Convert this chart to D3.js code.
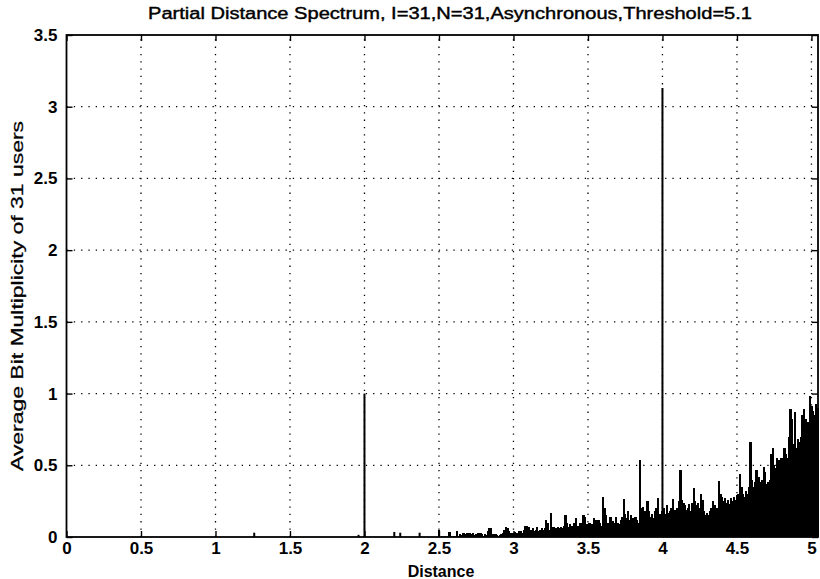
<!DOCTYPE html>
<html>
<head>
<meta charset="utf-8">
<script src="https://cdn.jsdelivr.net/npm/d3@7"></script>
<style>
  html, body { margin: 0; padding: 0; background: #fff; }
  svg { display: block; }
  text { font-family: "Liberation Sans", Arial, Helvetica, sans-serif; fill: #000; }
</style>
</head>
<body>
<svg id="chart" width="820" height="579"></svg>
<script>
// ---- data ----
const title = "Partial Distance Spectrum, I=31,N=31,Asynchronous,Threshold=5.1";
const xLabel = "Distance";
const yLabel = "Average Bit Multiplicity of 31 users";
const xTicks = [0, 0.5, 1, 1.5, 2, 2.5, 3, 3.5, 4, 4.5, 5];
const xTickLabels = ["0", "0.5", "1", "1.5", "2", "2.5", "3", "3.5", "4", "4.5", "5"];
const yTicks = [0, 0.5, 1, 1.5, 2, 2.5, 3, 3.5];
const yTickLabels = ["0", "0.5", "1", "1.5", "2", "2.5", "3", "3.5"];

// isolated spectral lines (distance, multiplicity)
const sparseDistances = [1.26, 1.96, 2.0, 2.20, 2.24, 2.37, 4.0];
const sparseValues    = [0.03, 0.015, 1.0, 0.035, 0.03, 0.03, 3.13];

// dense part of the spectrum: distances 2.50, 2.51, ... 5.04
const denseStart = 2.50;
const denseStep = 0.01;
const denseValues = [
  0.05, 0, 0.01, 0, 0.005, 0, 0.01, 0.035, 0.005, 0,
  0.01, 0.005, 0.04, 0.01, 0.02, 0.015, 0.025, 0.03, 0.02, 0.03,
  0.025, 0.03, 0.02, 0.03, 0.015, 0.02, 0.03, 0.025, 0.03, 0.02,
  0.01, 0.02, 0.015, 0.04, 0.065, 0.06, 0.02, 0.01, 0.02, 0.015,
  0.01, 0.015, 0.02, 0.03, 0.05, 0.07, 0.065, 0.04, 0.03, 0.025,
  0.03, 0.035, 0.03, 0.02, 0.04, 0.04, 0.03, 0.05, 0.08, 0.075,
  0.07, 0.04, 0.05, 0.06, 0.04, 0.05, 0.07, 0.04, 0.05, 0.06,
  0.05, 0.06, 0.12, 0.1, 0.05, 0.165, 0.06, 0.07, 0.05, 0.06,
  0.07, 0.06, 0.07, 0.06, 0.08, 0.15, 0.1, 0.07, 0.09, 0.08,
  0.06, 0.1, 0.13, 0.08, 0.07, 0.1, 0.08, 0.15, 0.14, 0.09,
  0.08, 0.1, 0.07, 0.09, 0.13, 0.12, 0.09, 0.12, 0.1, 0.08,
  0.28, 0.2, 0.15, 0.1, 0.08, 0.14, 0.09, 0.11, 0.1, 0.14,
  0.1, 0.09, 0.12, 0.14, 0.265, 0.16, 0.13, 0.18, 0.12, 0.15,
  0.13, 0.12, 0.14, 0.12, 0.1, 0.54, 0.2, 0.21, 0.18, 0.15,
  0.25, 0.18, 0.14, 0.16, 0.13, 0.18, 0.2, 0.27, 0.16, 0.15,
  0.18, 0.2, 0.16, 0.22, 0.17, 0.18, 0.2, 0.265, 0.19, 0.18,
  0.2, 0.25, 0.47, 0.26, 0.24, 0.22, 0.19, 0.2, 0.23, 0.18,
  0.24, 0.34, 0.25, 0.22, 0.24, 0.2, 0.3, 0.26, 0.18, 0.15,
  0.17, 0.15, 0.18, 0.2, 0.25, 0.22, 0.19, 0.2, 0.39, 0.3,
  0.28, 0.25, 0.27, 0.24, 0.26, 0.23, 0.27, 0.25, 0.28, 0.26,
  0.29, 0.3, 0.44, 0.35, 0.3, 0.28, 0.32, 0.3, 0.35, 0.66,
  0.4, 0.35, 0.38, 0.47, 0.4, 0.42, 0.38, 0.4, 0.49, 0.45,
  0.37, 0.38, 0.4, 0.58, 0.62, 0.5, 0.48, 0.55, 0.54, 0.5,
  0.55, 0.53, 0.62, 0.58, 0.55, 0.7, 0.89, 0.82, 0.65, 0.87,
  0.62, 0.68, 0.66, 0.7, 0.85, 0.89, 0.82, 0.75, 0.8, 0.98,
  0.91, 0.88, 0.85, 0.93, 0.9
];

// ---- layout ----
const mLeft = 66.5, mRight = 818, mTop = 35, mBottom = 537;
const svg = d3.select("#chart");

const x = d3.scaleLinear().domain([0, 5.044]).range([mLeft, mRight]);
const y = d3.scaleLinear().domain([0, 3.5]).range([mBottom, mTop]);

// grid (dotted)
const grid = svg.append("g").attr("stroke", "#000").attr("stroke-width", 1.3)
  .attr("stroke-dasharray", "1.3,6");
grid.selectAll("line.vx").data(xTicks.filter(t => t > 0 && t < 5.04)).join("line")
  .attr("x1", d => x(d)).attr("x2", d => x(d)).attr("y1", mBottom).attr("y2", mTop);
grid.selectAll("line.hy").data(yTicks.filter(t => t > 0 && t < 3.5)).join("line")
  .attr("x1", mLeft).attr("x2", mRight).attr("y1", d => y(d)).attr("y2", d => y(d));

// dense bars
const denseData = denseValues.map((v, i) => ({ d: denseStart + i * denseStep, v }));
const bw = (x(denseStep) - x(0)) + 0.9;
svg.append("g").attr("shape-rendering", "crispEdges")
  .selectAll("rect").data(denseData.filter(p => p.v > 0)).join("rect")
  .attr("x", p => x(p.d) - bw / 2)
  .attr("width", bw)
  .attr("y", p => y(p.v))
  .attr("height", p => y(0) - y(p.v))
  .attr("fill", "#000");

// sparse lines
const sparseData = sparseDistances.map((d, i) => ({ d, v: sparseValues[i] }));
svg.append("g").selectAll("line").data(sparseData).join("line")
  .attr("x1", p => x(p.d)).attr("x2", p => x(p.d))
  .attr("y1", y(0)).attr("y2", p => y(p.v))
  .attr("stroke", "#000").attr("stroke-width", 2);

// axes (ticks inward) on all four sides
const tickLen = 6;
svg.append("g").attr("transform", `translate(0,${mBottom})`)
  .call(d3.axisBottom(x).tickValues(xTicks).tickSize(-tickLen).tickFormat((d, i) => xTickLabels[i]).tickPadding(5))
  .call(g => { g.select(".domain").remove(); g.selectAll("text").attr("font-size", 17).attr("font-weight", "bold").attr("dy", "0.72em"); });
svg.append("g").attr("transform", `translate(0,${mTop})`)
  .call(d3.axisTop(x).tickValues(xTicks).tickSize(-tickLen).tickFormat(""))
  .call(g => g.select(".domain").remove());
svg.append("g").attr("transform", `translate(${mLeft},0)`)
  .call(d3.axisLeft(y).tickValues(yTicks).tickSize(-tickLen).tickFormat((d, i) => yTickLabels[i]).tickPadding(9))
  .call(g => { g.select(".domain").remove(); g.selectAll("text").attr("font-size", 17).attr("font-weight", "bold"); });
svg.append("g").attr("transform", `translate(${mRight},0)`)
  .call(d3.axisRight(y).tickValues(yTicks).tickSize(-tickLen).tickFormat(""))
  .call(g => g.select(".domain").remove());
svg.selectAll(".tick line").attr("stroke", "#000").attr("stroke-width", 1.4);

// frame
svg.append("rect").attr("x", mLeft).attr("y", mTop)
  .attr("width", mRight - mLeft).attr("height", mBottom - mTop)
  .attr("fill", "none").attr("stroke", "#000").attr("stroke-width", 1.8);

// title and labels
svg.append("text").attr("x", 450).attr("y", 19).attr("text-anchor", "middle")
  .attr("font-size", 16).attr("textLength", 604).attr("lengthAdjust", "spacingAndGlyphs")
  .attr("stroke", "#000").attr("stroke-width", 0.4)
  .text(title);
svg.append("text").attr("x", 441).attr("y", 577).attr("text-anchor", "middle")
  .attr("font-size", 16).attr("font-weight", "bold").text(xLabel);
svg.append("text").attr("transform", `translate(23,296) rotate(-90)`).attr("text-anchor", "middle")
  .attr("font-size", 17).attr("textLength", 350).attr("lengthAdjust", "spacingAndGlyphs")
  .attr("stroke", "#000").attr("stroke-width", 0.25)
  .text(yLabel);
</script>
</body>
</html>
